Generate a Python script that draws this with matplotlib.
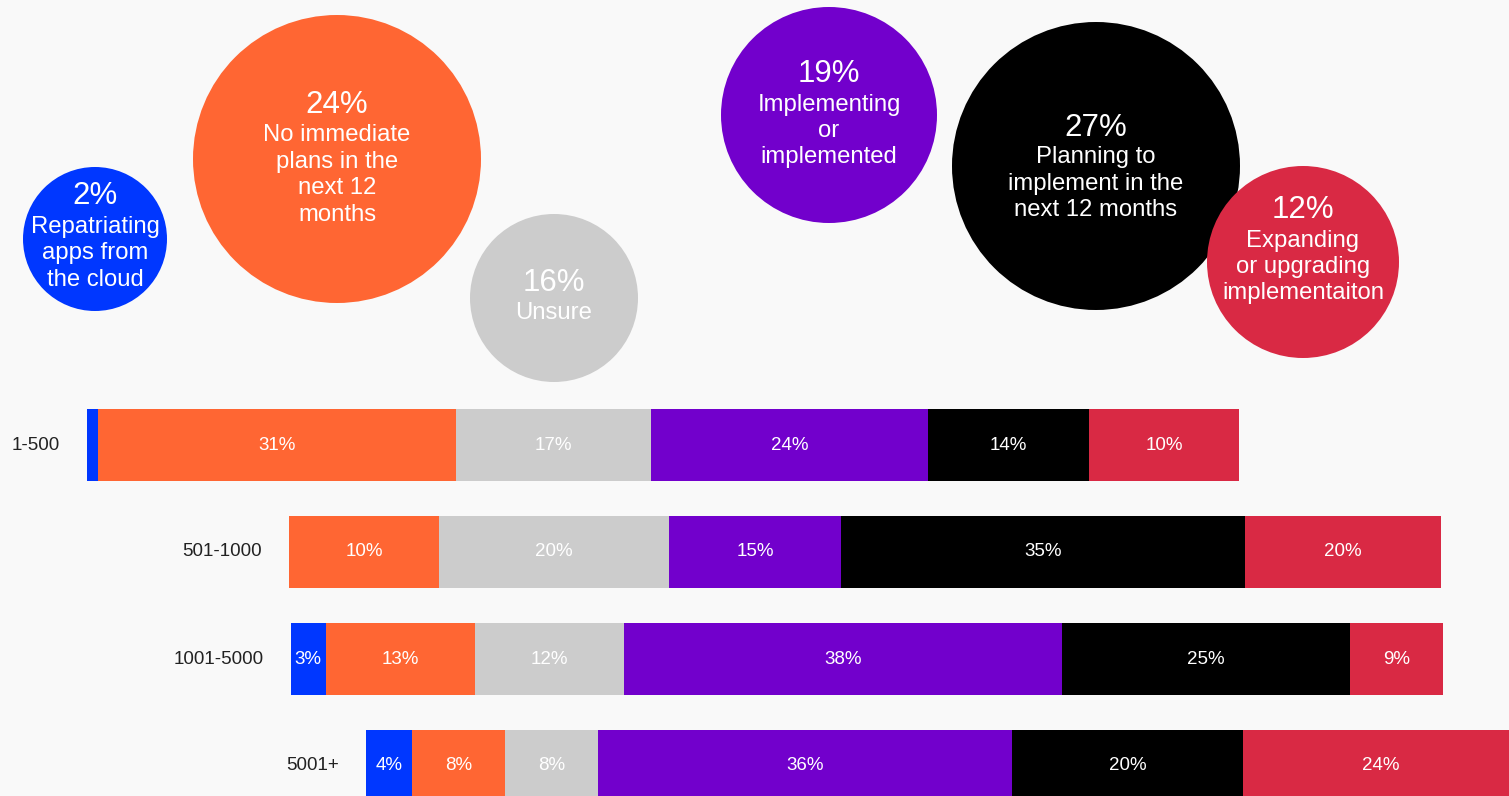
import matplotlib
matplotlib.use("Agg")
import matplotlib.pyplot as plt
from matplotlib.patches import Circle

plt.rcParams['font.family'] = ['Liberation Sans', 'DejaVu Sans']

# overall answers (bubbles)
bubble_pct = ["2%", "24%", "16%", "19%", "27%", "12%"]
bubble_text = ["Repatriating\napps from\nthe cloud",
               "No immediate\nplans in the\nnext 12\nmonths",
               "Unsure",
               "Implementing\nor\nimplemented",
               "Planning to\nimplement in the\nnext 12 months",
               "Expanding\nor upgrading\nimplementaiton"]

# answers by company size (stacked bars)
sizes = ["1-500", "501-1000", "1001-5000", "5001+"]
repatriating = [0.95, 0.0, 3.0, 4.0]
no_plans = [31.1, 13.0, 13.0, 8.1]
unsure = [16.9, 20.0, 12.9, 8.0]
implementing = [24.05, 14.9, 38.0, 36.0]
planning = [14.0, 35.1, 25.0, 20.0]
expanding = [13.0, 17.0, 8.1, 24.0]
# printed labels on the segments
lab_repatriating = ["", "", "3%", "4%"]
lab_no_plans = ["31%", "10%", "13%", "8%"]
lab_unsure = ["17%", "20%", "12%", "8%"]
lab_implementing = ["24%", "15%", "38%", "36%"]
lab_planning = ["14%", "35%", "25%", "20%"]
lab_expanding = ["10%", "20%", "9%", "24%"]

colors = ["#0037ff", "#ff6633", "#cccccc", "#7200cc", "#000000", "#d92944"]
bg = "#f9f9f9"

# layout: bubble centre x, y, radius, text centre y (pixels)
bubble_layout = [(95, 239, 72, 238), (337, 159, 144, 160), (554, 298, 84, 298),
                 (829, 115, 108, 116), (1096, 166, 144, 169), (1303, 262, 96, 252)]
row_start = [7.55, 25.09, 25.26, 31.77]   # where each bar starts, in % units
W, H = 1509, 796
px_per_pct = 11.52

fig = plt.figure(figsize=(W / 100, H / 100), dpi=100)
fig.patch.set_facecolor(bg)

# bubbles in pixel space
ax = fig.add_axes([0, 0, 1, 1])
ax.set_xlim(0, W)
ax.set_ylim(H, 0)
ax.axis("off")
for (cx, cy, r, ty), pct, txt, col in zip(bubble_layout, bubble_pct, bubble_text, colors):
    ax.add_patch(Circle((cx, cy), r, facecolor=col, edgecolor="none"))
    lines = txt.split("\n")
    span = 30 + 26.5 * (len(lines) - 1)
    y0 = ty - span / 2
    ax.text(cx, y0, pct, color="white", fontsize=22.5, ha="center", va="center")
    for k, line in enumerate(lines):
        ax.text(cx, y0 + 30 + 26.5 * k, line, color="white", fontsize=17.2,
                ha="center", va="center")

# bars in percent units
ax2 = fig.add_axes([0, 0, 1, 1])
ax2.patch.set_alpha(0)
ax2.set_xlim(0, W / px_per_pct)
ax2.set_ylim((H - 445) / 107, -445 / 107)
ax2.axis("off")

series = [repatriating, no_plans, unsure, implementing, planning, expanding]
labels = [lab_repatriating, lab_no_plans, lab_unsure, lab_implementing, lab_planning, lab_expanding]
ypos = list(range(len(sizes)))
left = list(row_start)
for vals, labs, col in zip(series, labels, colors):
    ax2.barh(ypos, vals, left=left, height=72 / 107, color=col, linewidth=0)
    for i in ypos:
        if labs[i]:
            ax2.text(left[i] + vals[i] / 2, i, labs[i], color="white", fontsize=13.5,
                     ha="center", va="center")
    left = [l + v for l, v in zip(left, vals)]

for i, name in enumerate(sizes):
    ax2.text(row_start[i] - 27 / px_per_pct, i, name, color="#222222", fontsize=13.5,
             ha="right", va="center")

fig.savefig("out.png", dpi=100, facecolor=bg)
